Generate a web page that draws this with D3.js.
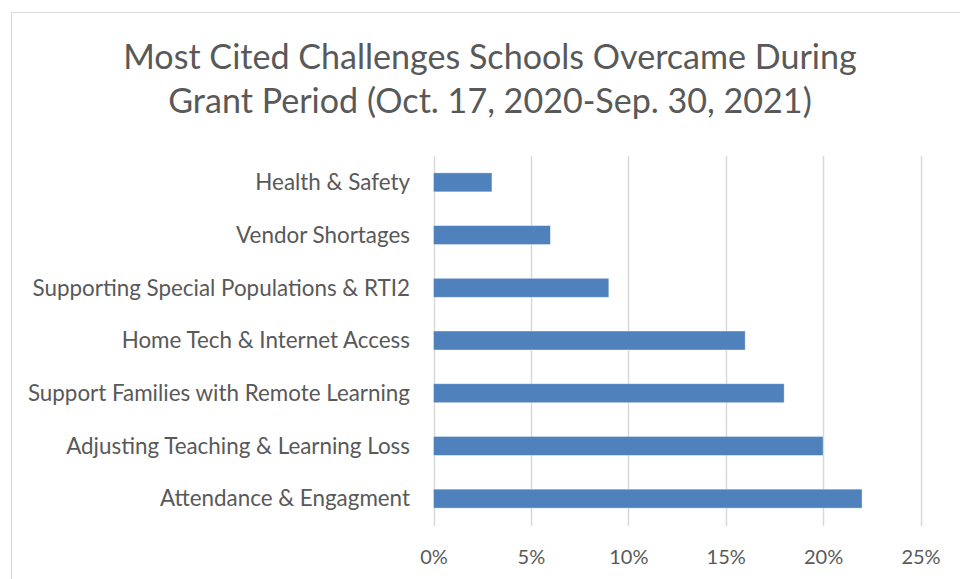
<!DOCTYPE html>
<html><head><meta charset="utf-8">
<script src="https://cdn.jsdelivr.net/npm/d3@7"></script>
<style>body{margin:0;background:#fff;}svg{display:block;font-family:"Lato",sans-serif;}</style>
</head><body>
<svg id="c" width="960" height="579"></svg>
<script>
const categories = ["Health & Safety","Vendor Shortages","Supporting Special Populations & RTI2","Home Tech & Internet Access","Support Families with Remote Learning","Adjusting Teaching & Learning Loss","Attendance & Engagment"];
const values = [0.03,0.06,0.09,0.16,0.18,0.20,0.22];
const tickValues = [0,0.05,0.10,0.15,0.20,0.25];
const titleLines = ["Most Cited Challenges Schools Overcame During","Grant Period (Oct. 17, 2020-Sep. 30, 2021)"];

const svg = d3.select("#c");
svg.append("rect").attr("x",11.5).attr("y",12.5).attr("width",960).attr("height",600)
  .attr("fill","#fff").attr("stroke","#d9d9d9").attr("stroke-width",1);

const x = d3.scaleLinear().domain([0,0.25]).range([433.5,920.5]);
const y = d3.scaleBand().domain(categories).range([156,525]).paddingInner(0.64).paddingOuter(0.32);

const g = svg.append("g");
g.selectAll("line.grid").data(tickValues).join("line").attr("class","grid")
  .attr("x1",d=>Math.round(x(d))+0.5).attr("x2",d=>Math.round(x(d))+0.5)
  .attr("y1",156).attr("y2",526).attr("stroke","#d9d9d9").attr("stroke-width",1.5);

g.selectAll("rect.bar").data(values).join("rect").attr("class","bar")
  .attr("x",x(0)).attr("y",(d,i)=>y(categories[i]))
  .attr("width",d=>x(d)-x(0)).attr("height",y.bandwidth())
  .attr("fill","#4f81bd").attr("stroke","#ffffff").attr("stroke-opacity",0.5).attr("stroke-width",0.75);

g.selectAll("text.cat").data(categories).join("text").attr("class","cat")
  .attr("x",410).attr("y",d=>y(d)+y.bandwidth()/2).attr("dy","0.35em")
  .attr("text-anchor","end").attr("fill","#595959").attr("font-size",22.4).text(d=>d);

const xAxis = d3.axisBottom(x).tickValues(tickValues).tickFormat(d3.format(".0%")).tickSize(0).tickPadding(0);
const ax = svg.append("g").attr("transform","translate(0,550)").call(xAxis);
ax.select(".domain").remove();
ax.selectAll("text").attr("fill","#595959").attr("font-size",20).attr("font-family","Lato").attr("dy","0.71em");

svg.selectAll("text.title").data(titleLines).join("text").attr("class","title")
  .attr("x",490).attr("y",(d,i)=>69+i*44).attr("text-anchor","middle")
  .attr("fill","#595959").attr("font-size",34.1).text(d=>d);
</script>
</body></html>
